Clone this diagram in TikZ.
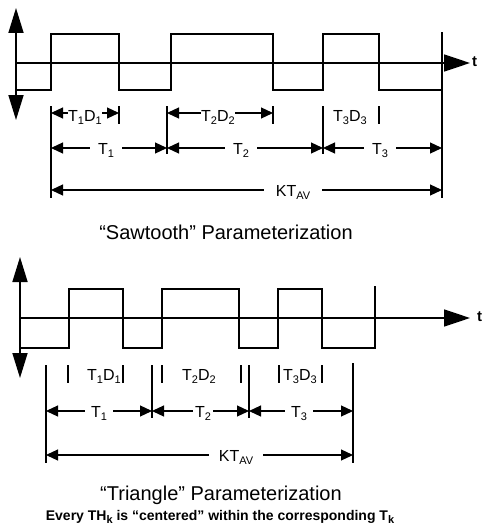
\documentclass[tikz,border=0pt]{standalone}
\usepackage{fontspec}
\setmainfont{Liberation Sans}
\usetikzlibrary{arrows.meta}
\newcommand\sbx[1]{\raisebox{-0.45ex}{\fontsize{11}{12}\selectfont #1}}
\begin{document}
\begin{tikzpicture}[x=1pt,y=-1pt,line cap=butt,
  wave/.style={line width=1.3pt,line join=miter},
  vaxis/.style={line width=1.7pt,{Triangle[length=25pt,width=15pt]}-{Triangle[length=25pt,width=15pt]}},
  haxis/.style={line width=1.7pt,-{Triangle[length=26pt,width=17pt]}},
  ext/.style={line width=1.2pt},
  dim/.style={line width=1.2pt,-{Triangle[length=12pt,width=11pt]}},
  lab/.style={font=\fontsize{16}{18}\selectfont,anchor=base,inner xsep=8pt,inner ysep=1pt},
  tight/.style={inner xsep=0.5pt},
  captxt/.style={font=\fontsize{20}{24}\selectfont,anchor=base,inner sep=0pt},
  notetxt/.style={font=\bfseries\fontsize{14}{16}\selectfont,anchor=base,inner sep=0pt},
  tlab/.style={font=\bfseries\fontsize{15}{16}\selectfont,anchor=west,inner sep=0pt}
]
\useasboundingbox (0,0) rectangle (484,527);

% ================= TOP: Sawtooth =================
\coordinate (A1t) at (16,8);
\coordinate (A1b) at (16,120);
\draw[vaxis] (A1b) -- (A1t);
\coordinate (H1s) at (16,63);
\coordinate (H1e) at (470,63);
\draw[haxis] (H1s) -- (H1e);
\node[tlab] (t1) at (472,62) {t};

\draw[wave] (17,90) -- (51,90) -- (51,34) -- (119,34) -- (119,90) -- (171,90) -- (171,34)
  -- (273,34) -- (273,90) -- (323,90) -- (323,34) -- (379,34) -- (379,90) -- (442,90) -- (442,32);

% extension lines
\draw[ext] (51,106) -- (51,198);
\draw[ext] (119,106) -- (119,124);
\draw[ext] (167,106) -- (167,154);
\draw[ext] (273,106) -- (273,124);
\draw[ext] (323,106) -- (323,154);
\draw[ext] (379,106) -- (379,124);
\draw[ext] (442,90) -- (442,198);

% row 1
\coordinate (a1) at (51,113);
\coordinate (b1) at (119,113);
\coordinate (a2) at (167,113);
\coordinate (b2) at (273,113);
\node[lab,tight] (td1) at (85,121) {T\sbx{1}D\sbx{1}};
\draw[dim] (td1.west |- a1) -- (a1);
\draw[dim] (td1.east |- b1) -- (b1);
\node[lab,tight] (td2) at (218,121) {T\sbx{2}D\sbx{2}};
\draw[dim] (td2.west |- a2) -- (a2);
\draw[dim] (td2.east |- b2) -- (b2);
\node[lab,tight] (td3) at (350,121) {T\sbx{3}D\sbx{3}};

% row 2
\coordinate (p0) at (51,148);
\coordinate (p1) at (167,148);
\coordinate (p2) at (323,148);
\coordinate (p3) at (442,148);
\node[lab] (T1) at (106,154) {T\sbx{1}};
\draw[dim] (T1.west |- p0) -- (p0);
\draw[dim] (T1.east |- p1) -- (p1);
\node[lab] (T2) at (241,154) {T\sbx{2}};
\draw[dim] (T2.west |- p1) -- (p1);
\draw[dim] (T2.east |- p2) -- (p2);
\node[lab] (T3) at (380,154) {T\sbx{3}};
\draw[dim] (T3.west |- p2) -- (p2);
\draw[dim] (T3.east |- p3) -- (p3);

% row 3
\coordinate (k0) at (51,190);
\coordinate (k1) at (442,190);
\node[lab,inner xsep=12pt] (KT) at (293,196) {KT\sbx{AV}};
\draw[dim] (KT.west |- k0) -- (k0);
\draw[dim] (KT.east |- k1) -- (k1);

\node[captxt] (c1) at (226,239) {“Sawtooth” Parameterization};

% ================= BOTTOM: Triangle =================
\coordinate (A2t) at (20,257);
\coordinate (A2b) at (20,378);
\draw[vaxis] (A2b) -- (A2t);
\coordinate (H2s) at (20,318);
\coordinate (H2e) at (470,318);
\draw[haxis] (H2s) -- (H2e);
\node[tlab] (t2) at (477,317) {t};

\draw[wave] (20,348) -- (69,348) -- (69,289) -- (123,289) -- (123,348) -- (162,348) -- (162,289)
  -- (239,289) -- (239,348) -- (278,348) -- (278,289) -- (322,289) -- (322,348) -- (375,348) -- (375,286);

% extension lines
\draw[ext] (46,365) -- (46,463);
\draw[ext] (68,365) -- (68,383);
\draw[ext] (123,365) -- (123,383);
\draw[ext] (152,365) -- (152,418);
\draw[ext] (162,365) -- (162,383);
\draw[ext] (241,365) -- (241,383);
\draw[ext] (249,365) -- (249,418);
\draw[ext] (279,365) -- (279,383);
\draw[ext] (322,365) -- (322,383);
\draw[ext] (353,363) -- (353,463);

% row 1
\node[lab,tight] (sd1) at (104,380) {T\sbx{1}D\sbx{1}};
\node[lab,tight] (sd2) at (199,380) {T\sbx{2}D\sbx{2}};
\node[lab,tight] (sd3) at (300,380) {T\sbx{3}D\sbx{3}};

% row 2
\coordinate (q0) at (46,411);
\coordinate (q1) at (152,411);
\coordinate (q2) at (249,411);
\coordinate (q3) at (353,411);
\node[lab,inner xsep=6pt] (S1) at (99,417) {T\sbx{1}};
\draw[dim] (S1.west |- q0) -- (q0);
\draw[dim] (S1.east |- q1) -- (q1);
\node[lab,inner xsep=2pt] (S2) at (203,417) {T\sbx{2}};
\draw[dim] (S2.west |- q1) -- (q1);
\draw[dim] (S2.east |- q2) -- (q2);
\node[lab,inner xsep=6pt] (S3) at (299,417) {T\sbx{3}};
\draw[dim] (S3.west |- q2) -- (q2);
\draw[dim] (S3.east |- q3) -- (q3);

% row 3
\coordinate (m0) at (46,455);
\coordinate (m1) at (353,455);
\node[lab,inner xsep=10pt] (KS) at (236,461) {KT\sbx{AV}};
\draw[dim] (KS.west |- m0) -- (m0);
\draw[dim] (KS.east |- m1) -- (m1);

\node[captxt] (c2) at (221,500) {“Triangle” Parameterization};
\node[notetxt] (n2) at (220,520) {Every TH\sbx{k} is “centered” within the corresponding T\sbx{k}};
\end{tikzpicture}
\end{document}
